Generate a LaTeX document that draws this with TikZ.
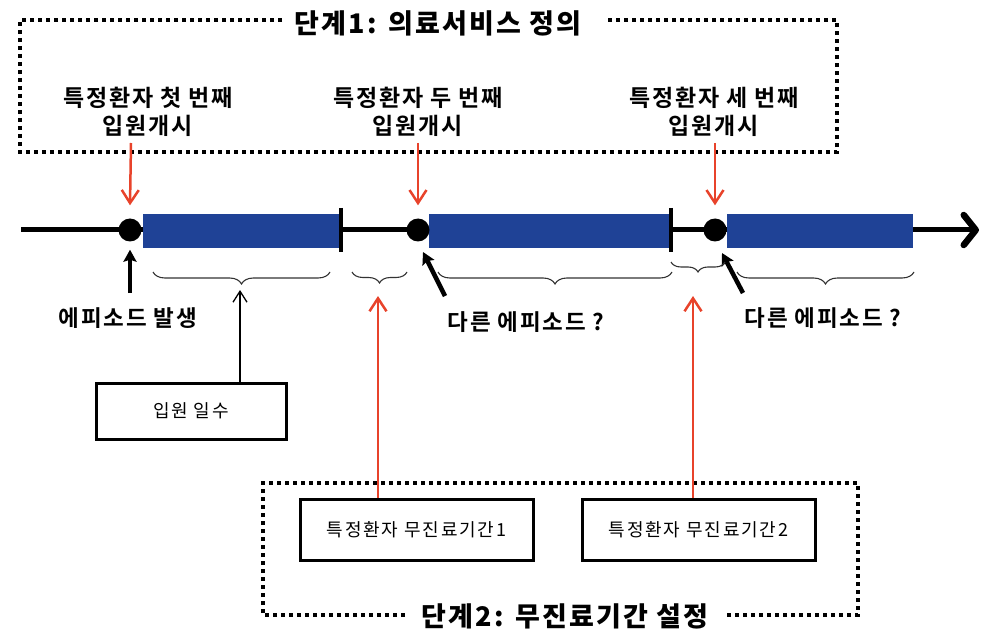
\documentclass[tikz,border=0pt]{standalone}
\usepackage{fontspec}
\newfontfamily\kr{Noto Sans CJK KR}[LetterSpace=10]
\newfontfamily\krb{Noto Sans CJK KR Bold}[LetterSpace=8]
\newfontfamily\krh{Noto Sans CJK KR Black}[LetterSpace=8]
\usetikzlibrary{arrows.meta,decorations.pathreplacing}
\definecolor{barblue}{RGB}{31,66,150}
\definecolor{arrred}{RGB}{232,67,43}
\begin{document}
\begin{tikzpicture}[x=1pt,y=-1pt,
  dotbox/.style={line width=4pt, dash pattern=on 4pt off 4pt},
  redarr/.style={arrred, line width=2.5pt, -{Straight Barb[length=13pt,width=17pt]}},
  blkarr/.style={black, line width=4.5pt, -{Stealth[length=12pt,width=13pt,inset=2pt]}},
  thinarr/.style={black, line width=1.3pt, -{Straight Barb[length=11pt,width=14pt]}},
  bracestyle/.style={black!80, line width=1.1pt, decorate, decoration={brace, mirror, amplitude=#1}},
  bar/.style={fill=barblue, inner sep=0pt, minimum height=34pt, anchor=west},
  dot/.style={circle, fill=black, inner sep=0pt, minimum size=23pt},
  tick/.style={line width=4pt},
  toplab/.style={font=\krb\fontsize{23}{28}\selectfont, align=center, inner sep=0pt},
  botlab/.style={font=\krb\fontsize{22.5}{28}\selectfont, inner sep=0pt},
  titlelab/.style={font=\krh\fontsize{27}{30}\selectfont, inner sep=0pt},
  boxlab/.style={draw=black, line width=3pt, font=\kr\fontsize{18}{20}\selectfont, inner sep=0pt}
]
\useasboundingbox (0,0) rectangle (998,644);

% top dotted frame
\draw[dotbox] (282,20) -- (20,20) -- (20,152) -- (837,152) -- (837,20) -- (605,20);
\node[titlelab] (title1) at (438,23) {단계1: 의료서비스 정의};

% bottom dotted frame
\draw[dotbox] (405,615) -- (263,615) -- (263,483) -- (858,483) -- (858,615) -- (727,615);
\node[titlelab] (title2) at (565,616) {단계2: 무진료기간 설정};

% timeline
\coordinate (tlstart) at (21,230);
\coordinate (tlend) at (979,230);
\draw[line width=5pt, -{Straight Barb[round,length=12pt,width=30pt,line width=6.5pt]}] (tlstart) -- (tlend);

\node[bar, minimum width=198pt] (bar1) at (143,231) {};
\node[bar, minimum width=241pt] (bar2) at (429,231) {};
\node[bar, minimum width=186pt] (bar3) at (727,231) {};

\draw[tick] (341,208) -- (341,252);
\draw[tick] (671,208) -- (671,252);

\node[dot] (d1) at (130,230) {};
\node[dot] (d2) at (418,230) {};
\node[dot] (d3) at (715,230) {};

% top labels and red arrows
\node[toplab] (l1) at (148,112) {특정환자 첫 번째\\입원개시};
\node[toplab] (l2) at (418,112) {특정환자 두 번째\\입원개시};
\node[toplab] (l3) at (714,112) {특정환자 세 번째\\입원개시};

\coordinate (r1s) at (131,143);
\coordinate (r2s) at (418,143);
\coordinate (r3s) at (715,143);
\draw[redarr] (r1s) -- ([yshift=13pt]d1.north);
\draw[redarr] (r2s) -- ([yshift=13pt]d2.north);
\draw[redarr] (r3s) -- ([yshift=13pt]d3.north);

% bottom labels and black arrows
\node[botlab] (e1) at (128,318) {에피소드 발생};
\node[botlab] (e2) at (526,322) {다른 에피소드 ?};
\node[botlab] (e3) at (823,318) {다른 에피소드 ?};

\coordinate (a1s) at (130,293);
\coordinate (a2s) at (445,296);
\coordinate (a2t) at (423,252);
\coordinate (a3s) at (743,293);
\coordinate (a3t) at (722,253);
\draw[blkarr] (a1s) -- ([yshift=-8pt]d1.south);
\draw[blkarr] (a2s) -- (a2t);
\draw[blkarr] (a3s) -- (a3t);

% braces
\coordinate (br1a) at (153,272); \coordinate (br1b) at (330,272);
\coordinate (br2a) at (352,272); \coordinate (br2b) at (407,272);
\coordinate (br3a) at (438,272); \coordinate (br3b) at (672,272);
\coordinate (br4a) at (671,262); \coordinate (br4b) at (725,262);
\coordinate (br5a) at (737,272); \coordinate (br5b) at (914,272);
\draw[bracestyle=12pt] (br1a) -- (br1b);
\draw[bracestyle=11pt] (br2a) -- (br2b);
\draw[bracestyle=12pt] (br3a) -- (br3b);
\draw[bracestyle=10pt] (br4a) -- (br4b);
\draw[bracestyle=12pt] (br5a) -- (br5b);

% boxes
\node[boxlab, minimum width=190pt, minimum height=56pt] (days) at (191,411) {입원 일수};
\node[boxlab, minimum width=233pt, minimum height=61pt] (free1) at (416.5,529.5) {특정환자 무진료기간1};
\node[boxlab, minimum width=233pt, minimum height=61pt] (free2) at (698.5,529.5) {특정환자 무진료기간2};

\coordinate (daystip) at (240,290);
\coordinate (f1tip) at (378,296);
\coordinate (f2tip) at (693,296);
\draw[thinarr] (days.north -| daystip) -- (daystip);
\draw[redarr] (free1.north -| f1tip) -- (f1tip);
\draw[redarr] (free2.north -| f2tip) -- (f2tip);
\end{tikzpicture}
\end{document}
